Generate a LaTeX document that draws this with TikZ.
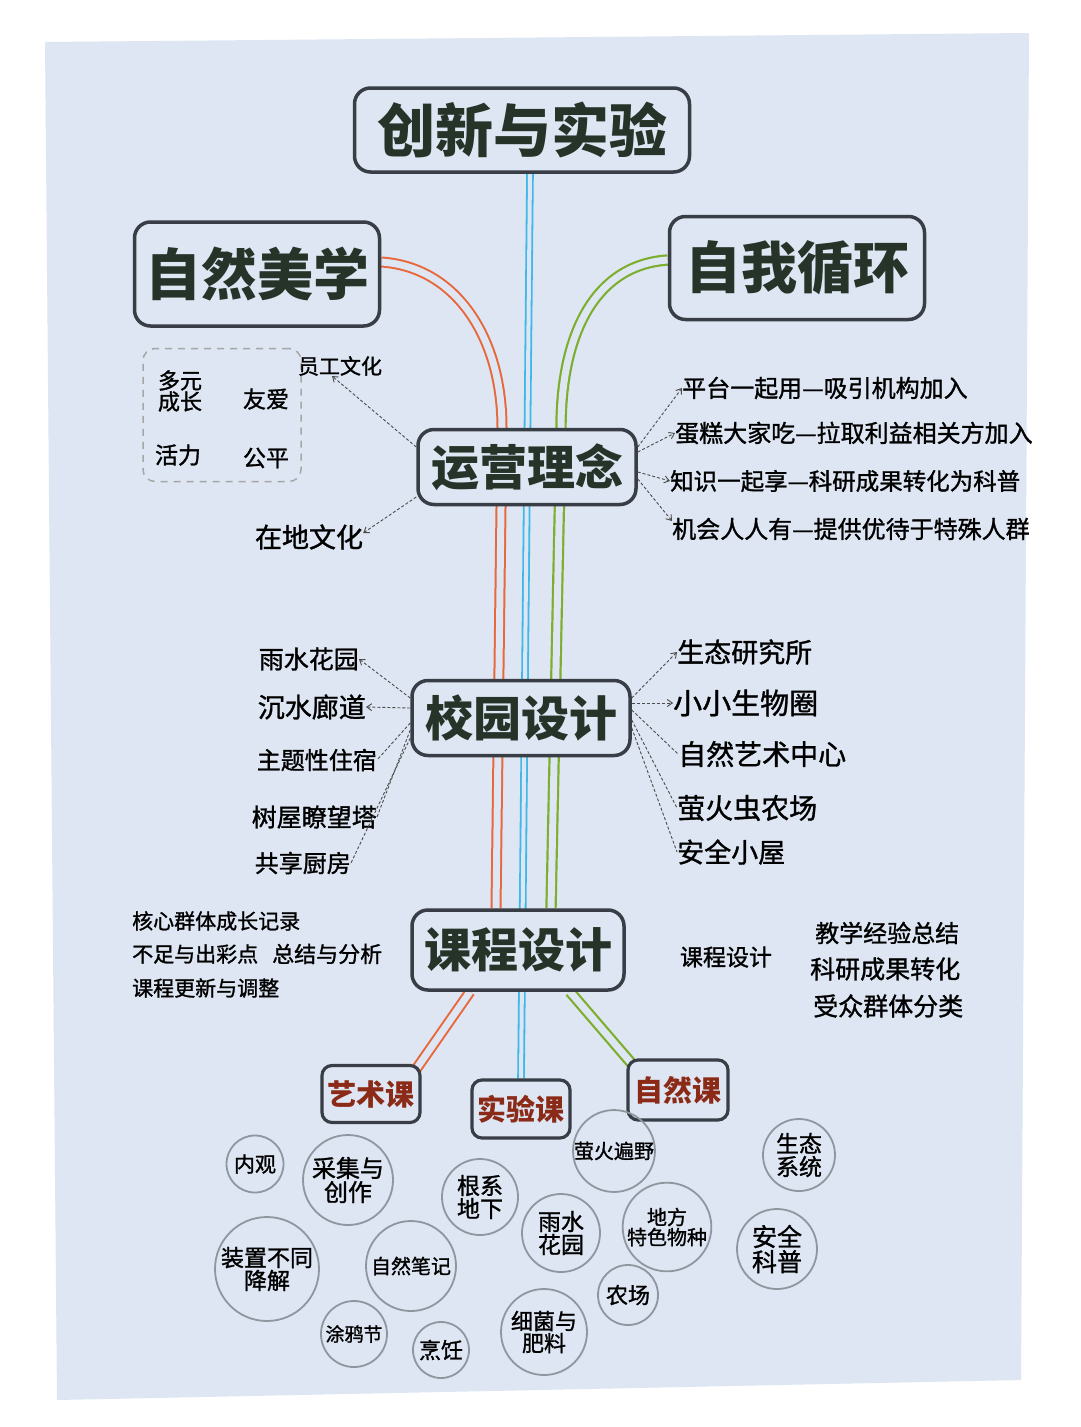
\documentclass[tikz,border=0pt]{standalone}
\usepackage{fontspec}
\setmainfont{Noto Sans CJK SC}
\newfontfamily\medfont{Noto Sans CJK SC}[FakeBold=1.2]
\usetikzlibrary{arrows.meta,backgrounds}
\definecolor{paper}{HTML}{DDE6F2}
\definecolor{ink}{HTML}{263328}
\definecolor{frame}{HTML}{383D46}
\definecolor{orng}{HTML}{E8683C}
\definecolor{blu}{HTML}{3DB8E8}
\definecolor{grn}{HTML}{7DAE2E}
\definecolor{redink}{HTML}{8C2A18}
\definecolor{circ}{HTML}{8E969F}
\newcommand{\fs}[1]{\fontsize{#1}{#1}\selectfont}
\begin{document}
\begin{tikzpicture}[x=1pt,y=-1pt,
  mainbox/.style={draw=frame, line width=3.5, rounded corners=16, fill=paper, text=ink, inner sep=0},
  subbox/.style={draw=frame, line width=3.2, rounded corners=10, fill=paper, text=redink, inner sep=0, font=\bfseries\fs{29}},
  bubble/.style={circle, draw=circ, line width=1.8, inner sep=0, align=center, text=black},
  lbl/.style={inner sep=0, text=black},
  darrow/.style={densely dashed, draw=black!70, line width=0.9, -{Straight Barb[length=5pt,width=7pt]}},
  dline/.style={densely dashed, draw=black!70, line width=0.9},
  oline/.style={draw=orng, line width=2, double=paper, double distance=7},
  bline/.style={draw=blu, line width=1.8, double=paper, double distance=4},
  gline/.style={draw=grn, line width=2.2, double=paper, double distance=7},
]
\useasboundingbox (0,0) rectangle (1080,1427);

% ---------- main boxes ----------
\path
  (522,130) node[mainbox, minimum width=335, minimum height=84, font=\bfseries\fs{58}] (title) {创新与实验}
  (257,274) node[mainbox, minimum width=245, minimum height=104, font=\bfseries\fs{56}] (zrmx) {自然美学}
  (797,268) node[mainbox, minimum width=255, minimum height=103, font=\bfseries\fs{56}] (zwxh) {自我循环}
  (527,467) node[mainbox, minimum width=218, minimum height=75, font=\bfseries\fs{48}] (yylm) {运营理念}
  (521,718) node[mainbox, minimum width=218, minimum height=75, font=\bfseries\fs{48}] (xysj) {校园设计}
  (518,950) node[mainbox, minimum width=212, minimum height=80, font=\bfseries\fs{47}] (kcsj) {课程设计}
  (371,1094) node[subbox, minimum width=98, minimum height=57] (art) {艺术课}
  (521,1109) node[subbox, minimum width=98, minimum height=58] (exp) {实验课}
  (678,1090) node[subbox, minimum width=100, minimum height=60] (nat) {自然课};

% ---------- paper and colored trunk lines (behind boxes) ----------
\begin{scope}[on background layer]
\fill[white] (0,0) rectangle (1080,1427);
\fill[paper] (45,42) -- (1029,33) -- (1021,1380) -- (57,1400) -- cycle;
\draw[bline] ([xshift=8]title.south) -- (exp.north);
\draw[oline] ([yshift=12]zrmx.east) .. controls +(75,5) and +(0,-90) .. ([xshift=-25]yylm.north) -- ([xshift=-22]kcsj.north);
\draw[gline] ([yshift=8]zwxh.west) .. controls +(-75,5) and +(0,-90) .. ([xshift=34]yylm.north) -- ([xshift=33]kcsj.north);
\draw[oline] ([xshift=-48]kcsj.south) -- ([xshift=-6,yshift=-6]art.north east);
\draw[gline] ([xshift=52]kcsj.south) -- ([xshift=6,yshift=-6]nat.north west);
\end{scope}

% ---------- 运营理念 branches ----------
\node[draw=black!35, dashed, dash pattern=on 7pt off 6pt, line width=1.5, rounded corners=12, minimum width=158, minimum height=133] (vals) at (222,415) {};
\node[lbl, font=\medfont\fs{22}, align=left] (dy) at (180,391) {多元\\[-1pt]成长};
\node[lbl, font=\medfont\fs{23}] (ya) at (266,399) {友爱};
\node[lbl, font=\medfont\fs{23}] (hl) at (178,455) {活力};
\node[lbl, font=\medfont\fs{23}] (gp) at (266,458) {公平};
\node[lbl, font=\medfont\fs{21}] (ygwh) at (340,366) {员工文化};
\node[lbl, font=\medfont\fs{27}] (zdwh) at (309,537) {在地文化};
\draw[darrow] ([yshift=20]yylm.west) -- ([xshift=-8]ygwh.south);
\draw[darrow] ([yshift=-30]yylm.west) -- ([yshift=4]zdwh.east);

\node[lbl, font=\medfont\fs{24}, anchor=west] (p1) at (682,388) {平台一起用—吸引机构加入};
\node[lbl, font=\medfont\fs{24}, anchor=west] (p2) at (675,433) {蛋糕大家吃—拉取利益相关方加入};
\node[lbl, font=\medfont\fs{23.5}, anchor=west] (p3) at (670,481) {知识一起享—科研成果转化为科普};
\node[lbl, font=\medfont\fs{24}, anchor=west] (p4) at (672,529) {机会人人有—提供优待于特殊人群};
\draw[darrow] ([yshift=20]yylm.east) -- (p1.west);
\draw[darrow] ([yshift=15]yylm.east) -- (p2.west);
\draw[darrow] ([yshift=-5]yylm.east) -- (p3.west);
\draw[darrow] ([yshift=-12]yylm.east) -- ([yshift=8]p4.west);

% ---------- 校园设计 branches ----------
\node[lbl, font=\medfont\fs{25}, anchor=east] (c1) at (359,659) {雨水花园};
\node[lbl, font=\medfont\fs{27}, anchor=east] (c2) at (366,707) {沉水廊道};
\node[lbl, font=\medfont\fs{24}, anchor=east] (c3) at (377,760) {主题性住宿};
\node[lbl, font=\medfont\fs{25}, anchor=east] (c4) at (377,817) {树屋瞭望塔};
\node[lbl, font=\medfont\fs{24}, anchor=east] (c5) at (351,863) {共享厨房};
\draw[darrow] ([yshift=20]xysj.west) -- (c1.east);
\draw[darrow] ([yshift=10]xysj.west) -- (c2.east);
\draw[dline] ([yshift=-5]xysj.west) -- (c3.east);
\draw[dline] ([yshift=-12]xysj.west) -- (c4.east);
\draw[dline] ([yshift=-20]xysj.west) -- (c5.east);

\node[lbl, font=\medfont\fs{27}, anchor=west] (r1) at (677,652) {生态研究所};
\node[lbl, font=\medfont\fs{29}, anchor=west] (r2) at (673,703) {小小生物圈};
\node[lbl, font=\medfont\fs{28}, anchor=west] (r3) at (678,754) {自然艺术中心};
\node[lbl, font=\medfont\fs{28}, anchor=west] (r4) at (677,808) {萤火虫农场};
\node[lbl, font=\medfont\fs{27}, anchor=west] (r5) at (677,852) {安全小屋};
\draw[darrow] ([yshift=20]xysj.east) -- (r1.west);
\draw[darrow] ([yshift=15]xysj.east) -- (r2.west);
\draw[dline] ([yshift=8]xysj.east) -- (r3.west);
\draw[dline] ([yshift=-2]xysj.east) -- (r4.west);
\draw[dline] ([yshift=-10]xysj.east) -- (r5.west);

% ---------- 课程设计 notes ----------
\node[lbl, font=\medfont\fs{21}, anchor=west] (k1) at (132,921) {核心群体成长记录};
\node[lbl, font=\medfont\fs{21}, anchor=west] (k2) at (132,954) {不足与出彩点};
\node[lbl, font=\medfont\fs{21}, anchor=west] (k3) at (132,988) {课程更新与调整};
\node[lbl, font=\medfont\fs{22}, anchor=west] (k4) at (272,954) {总结与分析};
\node[lbl, font=\medfont\fs{23}] (k5) at (726,957) {课程设计};
\node[lbl, font=\medfont\fs{24}, anchor=west] (k6) at (815,933) {教学经验总结};
\node[lbl, font=\medfont\fs{25}, anchor=west] (k7) at (810,969) {科研成果转化};
\node[lbl, font=\medfont\fs{25}, anchor=west] (k8) at (813,1006) {受众群体分类};

% ---------- bubbles ----------
\node[bubble, minimum size=57, font=\medfont\fs{21}] (b1) at (255,1164) {内观};
\node[bubble, minimum size=90, font=\medfont\fs{24}] (b2) at (348,1180) {采集与\\创作};
\node[bubble, minimum size=76, font=\medfont\fs{23}] (b3) at (480,1197) {根系\\地下};
\node[bubble, minimum size=78, font=\medfont\fs{23}] (b4) at (561,1233) {雨水\\花园};
\node[bubble, minimum size=80, font=\medfont\fs{20}] (b5) at (614,1151) {萤火遍野};
\node[bubble, minimum size=104, font=\medfont\fs{23}] (b6) at (267,1269) {装置不同\\降解};
\node[bubble, minimum size=90, font=\medfont\fs{20}] (b7) at (411,1266) {自然笔记};
\node[bubble, minimum size=66, font=\medfont\fs{19}] (b8) at (354,1334) {涂鸦节};
\node[bubble, minimum size=56, font=\medfont\fs{22}] (b9) at (441,1350) {烹饪};
\node[bubble, minimum size=86, font=\medfont\fs{22}] (b10) at (544,1332) {细菌与\\肥料};
\node[bubble, minimum size=60, font=\medfont\fs{22}] (b11) at (628,1295) {农场};
\node[bubble, minimum size=84, font=\medfont\fs{20}] (b12) at (667,1227) {地方\\特色物种};
\node[bubble, minimum size=72, font=\medfont\fs{23}] (b13) at (799,1155) {生态\\系统};
\node[bubble, minimum size=80, font=\medfont\fs{25}] (b14) at (777,1249) {安全\\科普};
\end{tikzpicture}
\end{document}
